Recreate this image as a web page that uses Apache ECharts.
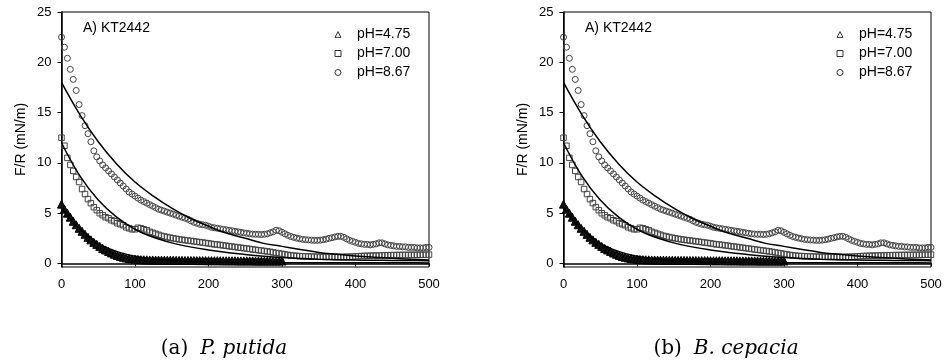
<!DOCTYPE html>
<html>
<head>
<meta charset="utf-8">
<script src="https://cdn.jsdelivr.net/npm/echarts@6/dist/echarts.min.js"></script>
<style>
html,body{margin:0;padding:0;background:#fff;}
#chart{width:945px;height:364px;}
</style>
</head>
<body>
<div id="chart"></div>
<script>
// ---------- DATA ----------
const seriesNames = ['pH=4.75', 'pH=7.00', 'pH=8.67'];
const panelTitles = ['A) KT2442', 'A) KT2442'];
const captionTags = ['(a)', '(b)'];
const captionSpecies = ['P. putida', 'B. cepacia'];
const xTicks = [0, 100, 200, 300, 400, 500];
const yTicks = [0, 5, 10, 15, 20, 25];
const yAxisName = 'F/R (mN/m)';

// measured curves sampled every 4 s (t = 0, 4, 8, ...)
const SAMPLE_INTERVAL = 4;
const ph475 = [
  5.9, 5.4, 5.0, 4.6, 4.2, 3.85, 3.5, 3.2, 2.9, 2.6,
  2.35, 2.1, 1.9, 1.7, 1.5, 1.35, 1.2, 1.05, 0.92, 0.8,
  0.7, 0.62, 0.55, 0.5, 0.46, 0.43, 0.4, 0.38, 0.37, 0.36,
  0.35, 0.35, 0.34, 0.34, 0.33, 0.33, 0.32, 0.32, 0.32, 0.31,
  0.31, 0.31, 0.3, 0.3, 0.3, 0.3, 0.29, 0.29, 0.29, 0.29,
  0.28, 0.28, 0.28, 0.28, 0.28, 0.27, 0.27, 0.27, 0.27, 0.27,
  0.26, 0.26, 0.26, 0.26, 0.26, 0.26, 0.25, 0.25, 0.25, 0.25,
  0.25, 0.25, 0.25, 0.25, 0.25, 0.25
];
const ph700 = [
  12.5, 11.7, 10.5, 9.8, 9.2, 8.6, 8.1, 7.4, 6.9, 6.4,
  6.0, 5.6, 5.3, 5.0, 4.8, 4.6, 4.5, 4.3, 4.2, 4.0,
  3.9, 3.8, 3.6, 3.5, 3.4, 3.4, 3.55, 3.5, 3.4, 3.3,
  3.15, 3.05, 2.95, 2.85, 2.75, 2.68, 2.62, 2.56, 2.5, 2.45,
  2.4, 2.36, 2.32, 2.28, 2.24, 2.2, 2.16, 2.12, 2.08, 2.04,
  2.0, 1.95, 1.9, 1.88, 1.84, 1.8, 1.76, 1.72, 1.68, 1.64,
  1.6, 1.56, 1.52, 1.48, 1.44, 1.4, 1.36, 1.32, 1.28, 1.24,
  1.2, 1.15, 1.1, 1.05, 1.0, 0.95, 0.9, 0.85, 0.8, 0.78,
  0.75, 0.73, 0.72, 0.7, 0.7, 0.68, 0.68, 0.67, 0.67, 0.66,
  0.66, 0.66, 0.66, 0.65, 0.65, 0.65, 0.66, 0.66, 0.67, 0.68,
  0.7, 0.72, 0.74, 0.75, 0.76, 0.77, 0.78, 0.78, 0.8, 0.8,
  0.82, 0.82, 0.83, 0.83, 0.84, 0.84, 0.85, 0.85, 0.85, 0.86,
  0.86, 0.86, 0.87, 0.87, 0.87, 0.88
];
const ph867 = [
  22.5, 21.5, 20.4, 19.3, 18.3, 17.2, 15.8, 14.7, 13.7, 12.9,
  12.1, 11.2, 10.6, 10.2, 9.8, 9.5, 9.2, 8.9, 8.6, 8.3,
  8.0, 7.7, 7.4, 7.1, 6.9, 6.7, 6.5, 6.3, 6.15, 6.0,
  5.85, 5.7, 5.55, 5.4, 5.3, 5.2, 5.1, 5.0, 4.9, 4.8,
  4.7, 4.6, 4.5, 4.4, 4.25, 4.1, 4.0, 3.9, 3.85, 3.8,
  3.7, 3.6, 3.55, 3.5, 3.45, 3.4, 3.35, 3.3, 3.25, 3.2,
  3.15, 3.1, 3.05, 3.0, 2.95, 2.92, 2.9, 2.9, 2.88, 2.9,
  2.95, 3.05, 3.15, 3.3, 3.25, 3.1, 2.95, 2.8, 2.68, 2.6,
  2.52, 2.46, 2.4, 2.36, 2.34, 2.32, 2.3, 2.3, 2.32, 2.36,
  2.42, 2.5, 2.56, 2.64, 2.7, 2.7, 2.6, 2.45, 2.3, 2.2,
  2.1, 2.0, 1.95, 1.9, 1.9, 1.85, 1.9, 1.95, 2.05, 2.05,
  1.95, 1.85, 1.8, 1.75, 1.7, 1.7, 1.65, 1.65, 1.6, 1.6,
  1.6, 1.55, 1.55, 1.55, 1.6, 1.6
];

// fitted curves
const fitTimes = [0, 25, 50, 75, 100, 125, 150, 175, 200, 225, 250, 275, 300, 325, 350, 375, 400, 425, 450, 475, 500];
const fit475 = [5.5, 3.4, 2.0, 1.2, 0.72, 0.45, 0.3, 0.2, 0.15, 0.12, 0.1, 0.09, 0.08, 0.075, 0.07, 0.068, 0.066, 0.064, 0.062, 0.061, 0.06];
const fit700 = [12.0, 8.7, 6.3, 4.6, 3.4, 2.6, 2.05, 1.65, 1.35, 1.1, 0.9, 0.72, 0.6, 0.5, 0.43, 0.38, 0.34, 0.32, 0.3, 0.29, 0.28];
const fit867 = [18.0, 14.8, 12.1, 9.9, 8.1, 6.7, 5.5, 4.5, 3.7, 3.0, 2.5, 2.0, 1.7, 1.4, 1.1, 0.92, 0.75, 0.62, 0.51, 0.41, 0.34];

// ---------- BUILD ----------
const measured = [ph475, ph700, ph867];
const fits = [fit475, fit700, fit867];
const symbols = ['triangle', 'rect', 'circle'];
const symbolSizes = [8, 5.5, 6];
const markerFills = ['#111', 'rgba(0,0,0,0)', 'rgba(0,0,0,0)'];
const markerColors = ['#000', '#444', '#444'];
const markerWidths = [1, 1, 1];
const legendIconPaths = [
  'path://M5,0.6 L9.6,9.4 L0.4,9.4 Z',
  'path://M0.5,0.5 L9.5,0.5 L9.5,9.5 L0.5,9.5 Z',
  'path://M5,0.5 A4.5,4.5 0 1 1 4.99,0.5 Z'
];

const FONT = '"Liberation Sans", Arial, sans-serif';
const panelLeft = [61.5, 563.5];
const plotW = 367.5, plotTop = 12, plotH = 255;

const grids = [], xAxes = [], yAxes = [], series = [], legends = [], graphics = [];

panelLeft.forEach((left, p) => {
  grids.push({left: left, top: plotTop, width: plotW, height: plotH,
    show: true, borderColor: '#000', borderWidth: 1, backgroundColor: 'transparent'});
  xAxes.push({
    type: 'value', gridIndex: p, min: 0, max: 500, interval: 100,
    axisLine: {show: true, lineStyle: {color: '#000', width: 1.5}},
    axisTick: {show: true, inside: false, length: 3, lineStyle: {color: '#000'}},
    axisLabel: {color: '#000', fontSize: 13, fontFamily: FONT, margin: 11,
      formatter: v => xTicks.includes(v) ? String(v) : ''},
    splitLine: {show: false}
  });
  yAxes.push({
    type: 'value', gridIndex: p, min: -0.35, max: 25,
    axisLine: {show: true, onZero: false, lineStyle: {color: '#000', width: 1.5}},
    axisTick: {show: true, inside: false, length: 4, customValues: yTicks, lineStyle: {color: '#000'}},
    axisLabel: {color: '#000', fontSize: 13, fontFamily: FONT, margin: 10, customValues: yTicks},
    splitLine: {show: false},
    name: yAxisName, nameLocation: 'middle', nameGap: 33,
    nameTextStyle: {color: '#000', fontSize: 14, fontFamily: FONT}
  });
  measured.forEach((vals, i) => {
    series.push({
      type: 'scatter', name: seriesNames[i], xAxisIndex: p, yAxisIndex: p,
      symbol: symbols[i], symbolSize: symbolSizes[i],
      itemStyle: {color: markerFills[i], borderColor: markerColors[i], borderWidth: markerWidths[i], opacity: 1},
      data: vals.map((v, k) => [k * SAMPLE_INTERVAL, v]),
      z: 2, silent: true, animation: false
    });
  });
  fits.forEach((vals, i) => {
    series.push({
      type: 'line', name: 'fit ' + seriesNames[i], xAxisIndex: p, yAxisIndex: p,
      smooth: 0.4, showSymbol: false, symbol: 'none',
      lineStyle: {color: '#000', width: 1.5},
      data: vals.map((v, k) => [fitTimes[k], v]),
      z: 3, silent: true, animation: false
    });
  });
  legends.push({
    data: seriesNames.map((n, i) => ({
      name: n, icon: legendIconPaths[i],
      itemStyle: {color: '#fff', borderColor: '#333', borderWidth: 1}
    })),
    orient: 'vertical', left: left + 268, top: 22.5,
    itemWidth: 6, itemHeight: 6, itemGap: 5,
    itemStyle: {color: '#fff', borderColor: '#333', borderWidth: 1},
    textStyle: {color: '#000', fontSize: 14, fontFamily: FONT, padding: [0, 0, 0, 11]},
    selectedMode: false
  });
  graphics.push({
    type: 'text', left: left + 21.5, top: 21,
    style: {text: panelTitles[p], fill: '#000', font: '14px ' + FONT}
  });
  graphics.push({
    type: 'text', x: left + 162.5, y: 349,
    style: {
      text: '{t|' + captionTags[p] + '}{g| }{s|' + captionSpecies[p] + '}',
      align: 'center', verticalAlign: 'middle',
      rich: {
        t: {fontFamily: '"DejaVu Serif", serif', fontSize: 20, fill: '#000'},
        g: {fontFamily: '"DejaVu Serif", serif', fontSize: 20, width: 12},
        s: {fontFamily: '"DejaVu Serif", serif', fontStyle: 'italic', fontSize: 20, fill: '#000'}
      }
    }
  });
});

const chart = echarts.init(document.getElementById('chart'), null, {renderer: 'canvas'});
chart.setOption({
  backgroundColor: '#fff',
  animation: false,
  grid: grids, xAxis: xAxes, yAxis: yAxes, series: series,
  legend: legends, graphic: graphics
});
</script>
</body>
</html>
